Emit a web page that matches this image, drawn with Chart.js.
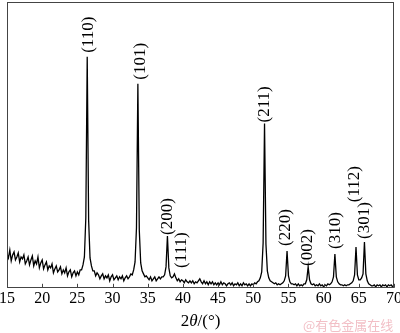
<!DOCTYPE html>
<html>
<head>
<meta charset="utf-8">
<script src="https://cdn.jsdelivr.net/npm/chart.js@4.4.1/dist/chart.umd.min.js"></script>
<style>
  html, body { margin: 0; padding: 0; background: #fff; }
  #wrap { width: 400px; height: 333px; position: relative; }
</style>
</head>
<body>
<div id="wrap"><canvas id="c" width="400" height="333"></canvas></div>
<script>
// XRD scan: start angle and step (degrees 2θ), intensities (arb. units)
const scanStart = 15.0;
const scanStep = 0.2;
const intensity = [
  34, 30, 38, 27, 33, 36, 28, 31, 35, 26,      // 15.0 - 16.8
  31, 29, 33, 24, 27, 31, 23, 28, 32, 22,      // 17.0 - 18.8
  27, 24, 31, 20, 25, 28, 19, 23, 26, 18,      // 19.0 - 20.8
  22, 20, 24, 15, 19, 22, 16, 18, 21, 14,      // 21.0 - 22.8
  18, 15, 20, 12, 16, 18, 11, 15, 17, 12,      // 23.0 - 24.8
  16, 13, 18, 18, 23, 31, 70, 232, 68, 30,     // 25.0 - 26.8
  22, 17, 17, 12, 15, 13, 9, 12, 14, 9,        // 27.0 - 28.8
  12, 10, 13, 7, 11, 13, 8, 10, 12, 8,         // 29.0 - 30.8
  11, 9, 12, 7, 10, 12, 9, 11, 14, 13,         // 31.0 - 32.8
  18, 26, 60, 205, 58, 25, 17, 14, 11, 12,     // 33.0 - 34.8
  10, 8, 11, 7, 9, 11, 7, 9, 11, 9,            // 35.0 - 36.8
  11, 11, 13, 21, 52, 20, 12, 10, 11, 14,      // 37.0 - 38.8
  10, 7, 9, 6, 8, 7, 5, 8, 6, 5,               // 39.0 - 40.8
  7, 5, 7, 4, 6, 5, 7, 9, 6, 4,                // 41.0 - 42.8
  7, 4, 6, 3, 6, 4, 6, 3, 5, 3,                // 43.0 - 44.8
  5, 3, 6, 3, 5, 4, 2, 4, 5, 3,                // 45.0 - 46.8
  5, 2, 4, 3, 5, 2, 4, 2, 5, 3,                // 47.0 - 48.8
  4, 2, 4, 2, 4, 3, 5, 4, 6, 7,                // 49.0 - 50.8
  10, 16, 45, 165, 44, 17, 10, 7, 6, 5,        // 51.0 - 52.8
  4, 5, 3, 4, 3, 4, 5, 7, 12, 37,              // 53.0 - 54.8
  12, 6, 4, 4, 3, 4, 2, 4, 2, 3,               // 55.0 - 56.8
  2, 4, 4, 8, 21, 8, 4, 3, 4, 2,               // 57.0 - 58.8
  3, 2, 4, 2, 3, 1, 3, 2, 4, 3,                // 59.0 - 60.8
  4, 6, 11, 34, 11, 6, 4, 3, 3, 2,             // 61.0 - 62.8
  3, 2, 3, 3, 4, 5, 7, 13, 41, 13,             // 63.0 - 64.8
  8, 8, 10, 14, 46, 14, 7, 4, 3, 2,            // 65.0 - 66.8
  2, 3, 1, 3, 2, 3, 1, 3, 2, 3,                // 67.0 - 68.8
  1, 3, 2, 3, 1, 3                             // 69.0 - 70.0
];
// Peak labels (hkl) and where each label's lower end sits, in data units (2θ, intensity)
const peakLabels = ['(110)', '(101)', '(200)', '(111)', '(211)', '(220)', '(002)', '(310)', '(112)', '(301)'];
const labelTheta = [26.5, 33.8, 37.7, 39.6, 51.5, 54.5, 57.6, 61.5, 64.3, 65.7];
const labelIntensity = [236, 209, 53, 20, 166, 42, 22, 39, 86, 49];
const xTicks = [15, 20, 25, 30, 35, 40, 45, 50, 55, 60, 65, 70];
const watermark = '@有色金属在线';

const points = intensity.map((v, i) => ({ x: +(scanStart + i * scanStep).toFixed(1), y: v }));

const serif = '"Liberation Serif", "DejaVu Serif", serif';

const decor = {
  id: 'decor',
  afterDraw(chart) {
    const ctx = chart.ctx;
    const a = chart.chartArea;
    const xs = chart.scales.x, ys = chart.scales.y;
    ctx.save();
    // frame
    ctx.strokeStyle = '#444';
    ctx.lineWidth = 1;
    ctx.strokeRect(Math.round(a.left) + 0.5, Math.round(a.top) + 0.5, Math.round(a.right - a.left) - 1, Math.round(a.bottom - a.top) - 1);
    // inward ticks
    ctx.beginPath();
    xTicks.forEach(t => {
      const px = Math.round(xs.getPixelForValue(t)) + 0.5;
      ctx.moveTo(px, a.bottom);
      ctx.lineTo(px, a.bottom - 4);
    });
    ctx.stroke();
    // peak labels
    ctx.fillStyle = '#000';
    ctx.font = '17px ' + serif;
    ctx.textAlign = 'left';
    ctx.textBaseline = 'middle';
    peakLabels.forEach((lab, i) => {
      const px = xs.getPixelForValue(labelTheta[i]);
      const py = ys.getPixelForValue(labelIntensity[i]);
      ctx.save();
      ctx.translate(px, py);
      ctx.rotate(-Math.PI / 2);
      ctx.fillText(lab, 0, 1);
      ctx.restore();
    });
    // axis title 2θ/(°)
    const parts = [['2', 'normal'], ['θ', 'italic'], ['/(°)', 'normal']];
    let total = 0;
    parts.forEach(p => { ctx.font = p[1] + ' 17px ' + serif; total += ctx.measureText(p[0]).width; });
    let x = (a.left + a.right) / 2 - total / 2;
    ctx.textAlign = 'left';
    ctx.textBaseline = 'alphabetic';
    parts.forEach(p => {
      ctx.font = p[1] + ' 17px ' + serif;
      ctx.fillText(p[0], x, 326);
      x += ctx.measureText(p[0]).width;
    });
    // watermark
    ctx.fillStyle = '#f2bfc6';
    ctx.font = '13px "Noto Sans CJK SC", sans-serif';
    ctx.fillText(watermark, 303, 330);
    ctx.restore();
  }
};

new Chart(document.getElementById('c'), {
  type: 'line',
  data: {
    datasets: [{
      data: points,
      borderColor: '#000',
      borderWidth: 1.3,
      pointRadius: 0,
      tension: 0,
      fill: false
    }]
  },
  options: {
    responsive: false,
    animation: false,
    devicePixelRatio: 1,
    layout: { padding: { left: 7, right: 6, top: 2, bottom: 24 } },
    plugins: { legend: { display: false }, tooltip: { enabled: false } },
    scales: {
      x: {
        type: 'linear',
        min: 15, max: 70,
        afterBuildTicks: s => { s.ticks = xTicks.map(v => ({ value: v })); },
        afterFit: s => { s.paddingLeft = 0; s.paddingRight = 0; },
        grid: { display: false, drawTicks: false },
        border: { display: false },
        ticks: { color: '#000', padding: 1, maxRotation: 0, autoSkip: false, font: { family: serif, size: 16 } }
      },
      y: {
        display: false,
        min: 0, max: 287
      }
    }
  },
  plugins: [decor]
});
</script>
</body>
</html>
